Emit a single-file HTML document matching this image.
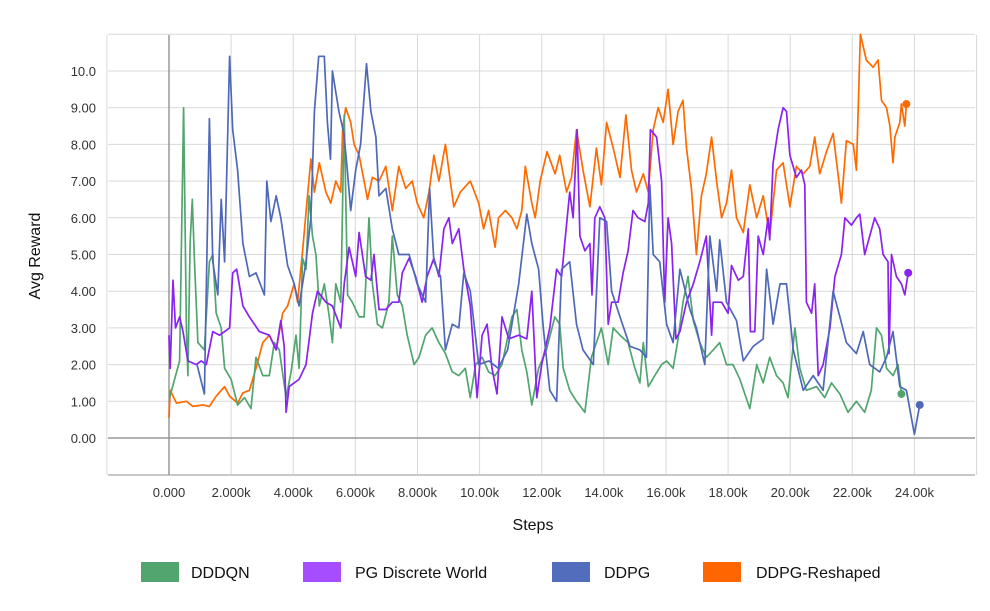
<!DOCTYPE html>
<html><head><meta charset="utf-8"><style>
body{margin:0;background:#fff;width:990px;height:606px;overflow:hidden;font-family:"Liberation Sans",sans-serif}
svg text{font-family:"Liberation Sans",sans-serif}
</style></head><body>
<svg id="chart" width="990" height="606" xmlns="http://www.w3.org/2000/svg">
<g id="grid"></g>
<g id="axes"></g>
<g id="series"></g>
<text x="40" y="256" transform="rotate(-90 40 256)" text-anchor="middle" font-size="16" fill="#111">Avg Reward</text>
<text x="533" y="530" text-anchor="middle" font-size="16" fill="#111">Steps</text>
<g>
<g><rect x="141" y="562" width="38" height="20" fill="#52a56f"/><text x="191" y="578" font-size="16" fill="#111">DDDQN</text></g>
<g><rect x="303" y="562" width="38" height="20" fill="#a64dff"/><text x="355" y="578" font-size="16" fill="#111">PG Discrete World</text></g>
<g><rect x="552" y="562" width="38" height="20" fill="#536dbd"/><text x="604" y="578" font-size="16" fill="#111">DDPG</text></g>
<g><rect x="703" y="562" width="38" height="20" fill="#ff6600"/><text x="756" y="578" font-size="16" fill="#111">DDPG-Reshaped</text></g>
</g>
</svg>
<script>
const xTicks=[0,2,4,6,8,10,12,14,16,18,20,22,24];
const xTickLabels=["0.000","2.000k","4.000k","6.000k","8.000k","10.00k","12.00k","14.00k","16.00k","18.00k","20.00k","22.00k","24.00k"];
const yTicks=[0,1,2,3,4,5,6,7,8,9,10];
const yTickLabels=["0.00","1.00","2.00","3.00","4.00","5.00","6.00","7.00","8.00","9.00","10.0"];

const greenX=[0.02,0.34,0.47,0.56,0.61,0.68,0.75,0.82,0.93,1.14,1.3,1.41,1.52,1.68,1.79,2.0,2.21,2.43,2.64,2.8,3.02,3.23,3.39,3.55,3.77,3.93,4.09,4.19,4.3,4.41,4.51,4.62,4.73,4.84,5.0,5.16,5.26,5.37,5.53,5.64,5.75,5.9,6.12,6.28,6.44,6.55,6.71,6.87,7.08,7.19,7.35,7.51,7.67,7.89,8.05,8.26,8.47,8.69,8.9,9.12,9.33,9.54,9.7,9.87,10.08,10.29,10.5,10.72,11.04,11.2,11.36,11.52,11.68,11.9,12.15,12.42,12.58,12.69,12.9,13.12,13.39,13.6,13.76,13.92,14.14,14.3,14.52,14.78,15.0,15.16,15.27,15.43,15.64,15.86,16.02,16.23,16.39,16.55,16.71,16.88,17.09,17.3,17.52,17.73,17.95,18.16,18.38,18.7,18.92,19.13,19.34,19.56,19.77,19.93,20.15,20.31,20.52,20.85,21.11,21.33,21.6,21.86,22.13,22.4,22.61,22.78,22.94,23.1,23.31,23.47,23.58];
const greenY=[1.1,2.1,9.0,3.0,1.7,5.3,6.5,4.8,2.6,2.4,4.8,5.0,3.4,3.0,1.9,1.6,0.9,1.1,0.8,2.2,1.7,1.7,2.6,2.4,1.1,1.8,2.8,1.9,4.9,4.6,6.6,5.5,5.0,3.6,4.2,3.3,2.6,4.2,3.7,8.8,3.9,3.7,3.3,3.3,6.0,4.2,3.1,3.0,3.7,5.5,3.9,3.6,2.8,2.0,2.2,2.8,3.0,2.6,2.3,1.8,1.7,1.9,1.1,2.0,2.2,1.8,1.7,2.0,3.3,3.5,2.4,1.8,0.9,1.9,2.4,3.3,3.1,1.9,1.3,1.0,0.7,2.2,2.6,3.0,2.0,3.0,2.8,2.6,1.9,1.5,2.6,1.4,1.7,2.0,2.1,1.9,2.7,3.7,4.4,3.2,2.6,2.2,2.4,2.6,2.0,2.0,1.6,0.8,2.0,1.5,2.2,1.7,1.5,1.1,3.0,1.9,1.3,1.4,1.1,1.5,1.2,0.7,1.0,0.7,1.3,3.0,2.8,1.9,1.7,2.0,1.2];

const purpleX=[0,0.04,0.13,0.21,0.34,0.45,0.61,0.88,1.04,1.2,1.41,1.63,1.95,2.05,2.18,2.38,2.59,2.91,3.23,3.45,3.6,3.71,3.77,3.87,4.19,4.41,4.62,4.78,5.05,5.26,5.53,5.64,5.8,6.01,6.12,6.33,6.5,6.6,6.76,6.98,7.19,7.4,7.51,7.73,7.94,8.15,8.31,8.53,8.69,8.85,9.01,9.12,9.33,9.49,9.7,9.92,10.08,10.24,10.4,10.56,10.72,10.94,11.26,11.52,11.68,11.84,12.0,12.26,12.48,12.64,12.74,12.9,13.01,13.14,13.23,13.39,13.55,13.62,13.71,13.87,14.03,14.14,14.25,14.46,14.62,14.78,14.94,15.1,15.32,15.43,15.5,15.7,15.86,15.96,16.07,16.18,16.32,16.45,16.66,16.88,17.09,17.3,17.47,17.52,17.79,18.0,18.11,18.33,18.49,18.65,18.72,18.86,18.97,19.13,19.29,19.34,19.45,19.61,19.77,19.88,19.99,20.2,20.36,20.47,20.52,20.69,20.79,20.9,21.06,21.28,21.44,21.65,21.76,21.97,22.13,22.24,22.4,22.56,22.72,22.88,22.99,23.15,23.18,23.26,23.42,23.58,23.69,23.8];
const purpleY=[2.8,1.9,4.3,3.0,3.3,2.9,2.1,2.0,2.1,2.0,2.9,2.8,3.0,4.5,4.6,3.6,3.3,2.9,2.8,2.4,3.2,2.5,0.7,1.4,1.6,2.0,3.4,4.0,3.7,3.6,3.0,4.2,5.2,4.4,5.6,4.4,4.3,5.0,3.5,3.5,3.7,3.7,4.5,4.9,4.4,3.7,4.4,4.9,4.4,5.7,6.0,5.3,5.7,4.6,3.6,1.1,2.8,3.1,1.9,1.2,3.3,2.7,2.8,2.7,4.0,1.1,2.0,3.0,4.6,4.4,5.3,6.7,6.0,8.4,5.5,5.1,5.3,3.9,6.0,6.3,6.0,3.1,3.7,3.7,4.5,5.1,6.2,6.0,5.9,6.4,8.4,8.2,7.0,3.7,6.0,5.3,2.7,2.9,3.7,4.2,4.8,5.5,2.8,3.7,3.7,3.4,4.7,4.3,4.4,5.7,2.9,2.9,5.5,5.0,6.0,5.4,7.5,8.4,9.0,8.9,7.7,7.1,7.3,6.9,3.7,3.4,4.2,1.7,2.0,3.0,4.4,5.0,6.0,5.8,6.0,6.1,5.0,5.5,6.0,5.7,5.0,4.8,2.3,5.0,4.4,4.2,3.9,4.5];

const blueX=[0.9,1.14,1.3,1.41,1.57,1.68,1.79,1.95,2.05,2.21,2.38,2.59,2.8,3.07,3.15,3.28,3.45,3.6,3.82,4.03,4.19,4.41,4.57,4.68,4.82,5.0,5.1,5.2,5.26,5.47,5.63,5.74,5.85,6.01,6.17,6.36,6.5,6.66,6.76,6.98,7.19,7.4,7.73,7.99,8.26,8.39,8.53,8.74,8.9,9.12,9.33,9.49,9.7,9.97,10.3,10.6,10.9,11.26,11.52,11.68,11.9,12.05,12.26,12.48,12.64,12.9,13.12,13.33,13.66,13.87,14.09,14.25,14.52,14.84,15.16,15.37,15.48,15.59,15.8,16.02,16.23,16.45,16.77,16.98,17.25,17.41,17.63,17.73,17.95,18.27,18.49,18.81,19.13,19.24,19.45,19.67,19.88,20.1,20.42,20.74,21.06,21.38,21.6,21.81,22.13,22.35,22.56,22.88,23.1,23.31,23.53,23.74,24.0,24.17];
const blueY=[2.0,1.2,8.7,4.8,3.9,6.5,4.8,10.4,8.4,7.3,5.3,4.4,4.5,3.9,7.0,5.9,6.6,6.0,4.7,4.2,3.6,4.8,6.0,8.9,10.4,10.4,8.6,7.6,10.0,8.9,8.3,7.3,6.2,7.3,8.0,10.2,8.9,8.2,6.6,6.8,5.7,5.0,5.0,4.2,3.7,6.8,4.8,4.4,2.4,3.1,3.0,4.5,4.0,2.0,2.1,1.9,2.4,4.2,6.1,5.3,4.6,3.0,1.3,1.0,4.6,4.8,3.1,2.4,2.0,6.0,5.9,4.0,3.3,2.5,2.4,2.2,6.9,5.0,4.8,3.1,2.6,4.6,3.5,3.0,2.0,5.5,4.0,5.4,3.7,3.2,2.1,2.5,2.7,4.6,3.1,4.2,4.2,2.4,1.3,1.7,1.3,4.0,3.3,2.6,2.3,2.9,2.0,1.8,2.2,2.9,1.4,1.3,0.1,0.9];

const orangeX=[0,0.04,0.24,0.56,0.77,1.09,1.3,1.52,1.79,1.95,2.21,2.38,2.59,2.8,3.02,3.23,3.45,3.66,3.82,4.03,4.14,4.3,4.46,4.57,4.68,4.84,5.05,5.21,5.37,5.53,5.59,5.69,5.85,5.96,6.12,6.28,6.39,6.55,6.76,6.98,7.19,7.4,7.62,7.83,7.99,8.2,8.37,8.53,8.69,8.9,9.17,9.38,9.7,9.97,10.13,10.29,10.5,10.61,10.83,11.04,11.2,11.36,11.47,11.68,11.79,11.95,12.17,12.43,12.58,12.8,12.96,13.12,13.33,13.55,13.76,13.92,14.09,14.3,14.52,14.71,14.89,15.05,15.27,15.43,15.59,15.75,15.91,16.07,16.23,16.39,16.55,16.66,16.82,16.98,17.14,17.3,17.47,17.63,17.79,17.95,18.11,18.27,18.49,18.7,18.92,19.13,19.34,19.56,19.77,19.99,20.2,20.42,20.63,20.79,20.95,21.17,21.38,21.54,21.65,21.81,22.03,22.13,22.26,22.45,22.67,22.83,22.94,23.1,23.21,23.31,23.37,23.53,23.58,23.69,23.74];
const orangeY=[0.55,1.3,0.95,1.0,0.86,0.9,0.86,1.14,1.4,1.14,0.95,1.23,1.3,1.9,2.6,2.8,2.4,3.4,3.6,4.2,3.7,5.1,6.6,7.6,6.7,7.5,6.7,6.4,7.0,6.7,8.4,9.0,8.6,8.0,7.7,7.0,6.5,7.1,7.0,7.4,6.2,7.4,6.8,7.0,6.4,6.0,6.7,7.7,7.0,8.0,6.3,6.7,7.0,6.4,5.7,6.2,5.2,6.0,6.2,6.0,5.7,6.2,7.4,6.4,6.0,7.0,7.8,7.2,7.7,6.7,7.1,8.4,7.3,6.3,7.9,6.9,8.6,7.9,7.1,8.8,7.3,6.7,7.2,6.7,8.4,9.0,8.6,9.5,8.0,8.9,9.2,7.9,6.8,5.0,6.6,7.2,8.2,7.0,6.0,6.4,7.3,6.0,5.6,6.9,6.0,6.6,5.5,7.3,7.5,6.3,7.4,7.2,7.4,8.2,7.2,7.8,8.3,7.2,6.4,8.1,8.0,7.3,11.0,10.3,10.1,10.3,9.2,9.0,8.5,7.5,8.2,8.6,9.1,8.5,9.1];

const NS='http://www.w3.org/2000/svg';
const X0=169, XPER=31.06, Y0=438, YPER=36.7;
const xs=k=>X0+k*XPER, ys=v=>Y0-v*YPER;
function mk(tag,attrs,parent){const e=document.createElementNS(NS,tag);for(const a in attrs)e.setAttribute(a,attrs[a]);parent.appendChild(e);return e;}
const grid=document.getElementById('grid'), axes=document.getElementById('axes'), ser=document.getElementById('series');
for(let v=-1;v<=11;v++){
  const l=mk('line',{x1:108,x2:975,y1:ys(v),y2:ys(v),stroke:'#d9d9d9','stroke-width':1},grid);
  
  
}
for(let k=-2;k<=26;k+=2){
  const l=mk('line',{x1:xs(k),x2:xs(k),y1:35,y2:475,stroke:'#d9d9d9','stroke-width':1},grid);
  
  
}
const bx=mk('line',{x1:108,x2:975,y1:475,y2:475,stroke:'#c8c8c8','stroke-width':2},axes);


const zl=mk('line',{x1:108,x2:975,y1:ys(0),y2:ys(0),stroke:'#999','stroke-width':1.5},axes);


const ya=mk('line',{x1:xs(0),x2:xs(0),y1:35,y2:475,stroke:'#999','stroke-width':1.5},axes);


xTicks.forEach((k,i)=>{
  const t=mk('text',{x:xs(k),y:497,'text-anchor':'middle','font-size':13,fill:'#333'},axes);
  t.textContent=xTickLabels[i];
  
  
});
yTicks.forEach((v,i)=>{
  const t=mk('text',{x:96,y:ys(v)+5,'text-anchor':'end','font-size':13,fill:'#333'},axes);
  t.textContent=yTickLabels[i];
  
  
});
function drawSeries(X,Y,color,name){
  const d=X.map((k,i)=>(i?'L':'M')+xs(k).toFixed(1)+','+ys(Y[i]).toFixed(1)).join('');
  const p=mk('path',{d:d,fill:'none',stroke:color,'stroke-width':1.7,'stroke-linejoin':'round'},ser);
  
  
  const n=X.length-1;
  const c=mk('circle',{cx:xs(X[n]),cy:ys(Y[n]),r:4,fill:color},ser);
  
  
}
drawSeries(orangeX,orangeY,'#ff6a00','ddpg-reshaped');
drawSeries(greenX,greenY,'#52a56f','dddqn');
drawSeries(purpleX,purpleY,'#8a22f0','pg-discrete-world');
drawSeries(blueX,blueY,'#4f68b8','ddpg');
</script>
</body></html>
